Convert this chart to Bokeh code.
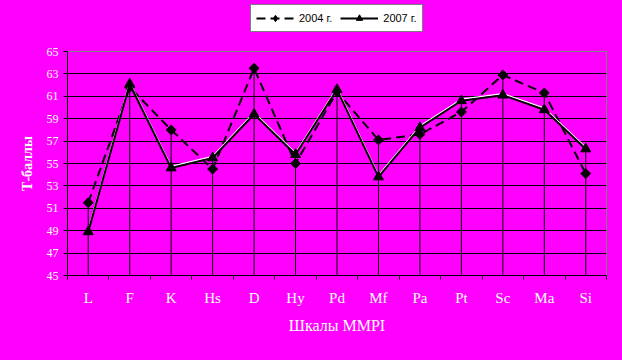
import numpy as np
from bokeh.plotting import figure
from bokeh.layouts import column
from bokeh.models import (Range1d, FixedTicker, Legend, LegendItem, ColumnDataSource, Dodge)
from bokeh.embed import file_html
from bokeh.resources import INLINE

scales = ["L", "F", "K", "Hs", "D", "Hy", "Pd", "Mf", "Pa", "Pt", "Sc", "Ma", "Si"]
v2004 = [51.5, 61.8, 58.0, 54.5, 63.5, 55.0, 61.4, 57.1, 57.6, 59.6, 62.9, 61.3, 54.1]
v2007 = [48.9, 62.1, 54.6, 55.5, 59.4, 55.8, 61.6, 53.8, 58.2, 60.6, 61.1, 59.8, 56.3]
y_ticks = [45, 47, 49, 51, 53, 55, 57, 59, 61, 63, 65]
label_2004 = "2004 г."
label_2007 = "2007 г."

BG = "#FF00FF"
W, H, LEG_H, GAP = 622, 360, 38, 13
n = len(scales)
x = np.arange(n) + 0.5
src = ColumnDataSource(dict(x=x, v04=v2004, v07=v2007,
                            top=np.maximum(v2004, v2007),
                            bot=[y_ticks[0]] * n))

p = figure(width=W, height=H - LEG_H, output_backend="svg", toolbar_location=None,
           x_range=Range1d(0, n), y_range=Range1d(y_ticks[0], y_ticks[-1]),
           min_border_left=67, min_border_right=16, min_border_top=GAP, min_border_bottom=85,
           styles={"background-color": BG})
p.title.visible = False
p.background_fill_color = BG
p.border_fill_color = BG
p.outline_line_color = "#808080"
p.outline_line_width = 1

# grid
p.xgrid.visible = False
p.ygrid.ticker = FixedTicker(ticks=y_ticks[1:-1])
p.ygrid.grid_line_color = "black"
p.ygrid.grid_line_width = 1

# y axis
p.yaxis.ticker = FixedTicker(ticks=y_ticks)
p.yaxis.axis_line_color = "black"
p.yaxis.major_tick_line_color = "black"
p.yaxis.major_tick_out = 4
p.yaxis.major_tick_in = 0
p.yaxis.minor_tick_line_color = None
p.yaxis.major_label_text_color = "white"
p.yaxis.major_label_text_font = "Liberation Serif"
p.yaxis.major_label_text_font_size = "12px"
p.yaxis.major_label_standoff = 5
p.yaxis.axis_label = "Т-баллы"
p.yaxis.axis_label_text_color = "white"
p.yaxis.axis_label_text_font = "Liberation Serif"
p.yaxis.axis_label_text_font_style = "bold"
p.yaxis.axis_label_text_font_size = "14px"
p.yaxis.axis_label_standoff = 9

# x axis: labels at centres, ticks at boundaries
p.xaxis.ticker = FixedTicker(ticks=list(x), minor_ticks=list(range(n + 1)))
p.xaxis.major_label_overrides = {float(xi): s for xi, s in zip(x, scales)}
p.xaxis.axis_line_color = "black"
p.xaxis.major_tick_line_color = None
p.xaxis.major_tick_out = 4
p.xaxis.major_tick_in = 0
p.xaxis.minor_tick_line_color = "black"
p.xaxis.minor_tick_out = 4
p.xaxis.minor_tick_in = 0
p.xaxis.major_label_text_color = "white"
p.xaxis.major_label_text_font = "Liberation Serif"
p.xaxis.major_label_text_font_size = "15px"
p.xaxis.major_label_standoff = 10
p.xaxis.axis_label = "Шкалы MMPI"
p.xaxis.axis_label_text_color = "white"
p.xaxis.axis_label_text_font = "Liberation Serif"
p.xaxis.axis_label_text_font_style = "normal"
p.xaxis.axis_label_text_font_size = "16px"
p.xaxis.axis_label_standoff = 8

# drop lines
p.segment(x0="x", y0="bot", x1="x", y1="top", source=src, line_color="black", line_width=1)

style04 = dict(line_color="black", line_width=2, line_dash="9 5")
style07 = dict(line_color="black", line_width=2)
mk04 = dict(marker="square", angle=np.pi / 4, size=7, fill_color="black", line_color="black")
mk07 = dict(marker="triangle", size=10, fill_color="black", line_color="black")

# 2004 series
p.line("x", "v04", source=src, **style04)
p.scatter("x", "v04", source=src, **mk04)

# 2007 series with white highlight
p.line("x", {"field": "v07", "transform": Dodge(value=0.13)}, source=src,
       line_color="white", line_width=1.5)
p.line("x", "v07", source=src, **style07)
p.scatter("x", "v07", source=src, **mk07)

# legend strip above the chart (proxy renderers kept outside its visible range)
lg = figure(width=W, height=LEG_H, output_backend="svg", toolbar_location=None,
            x_range=Range1d(-2, -1), y_range=Range1d(-2, -1),
            x_axis_location=None, y_axis_location=None,
            min_border=0, min_border_left=0, min_border_right=0,
            min_border_top=0, min_border_bottom=0,
            styles={"background-color": BG})
lg.title.visible = False
lg.background_fill_color = BG
lg.border_fill_color = BG
lg.outline_line_color = None
lg.outline_line_alpha = 0
lg.outline_line_width = 0
lg.grid.visible = False
r1 = lg.line("x", "v04", source=src, **style04)
r2 = lg.scatter("x", "v04", source=src, marker="diamond", size=9,
                fill_color="black", line_color="black")
r3 = lg.line("x", "v07", source=src, **style07)
r4 = lg.scatter("x", "v07", source=src, **mk07)

legend = Legend(items=[LegendItem(label=label_2004, renderers=[r1, r2]),
                       LegendItem(label=label_2007, renderers=[r3, r4])],
                orientation="horizontal", location=(183, LEG_H - 32),
                glyph_width=38, glyph_height=16, label_standoff=5, spacing=8,
                padding=5, margin=0,
                label_text_font="Liberation Sans", label_text_font_size="11px",
                label_text_color="black",
                background_fill_color="white", background_fill_alpha=1,
                border_line_color="black", border_line_width=1)
lg.add_layout(legend, "center")

layout = column(lg, p, spacing=0, styles={"background-color": BG})
open("out.html", "w").write(file_html(layout, INLINE))
